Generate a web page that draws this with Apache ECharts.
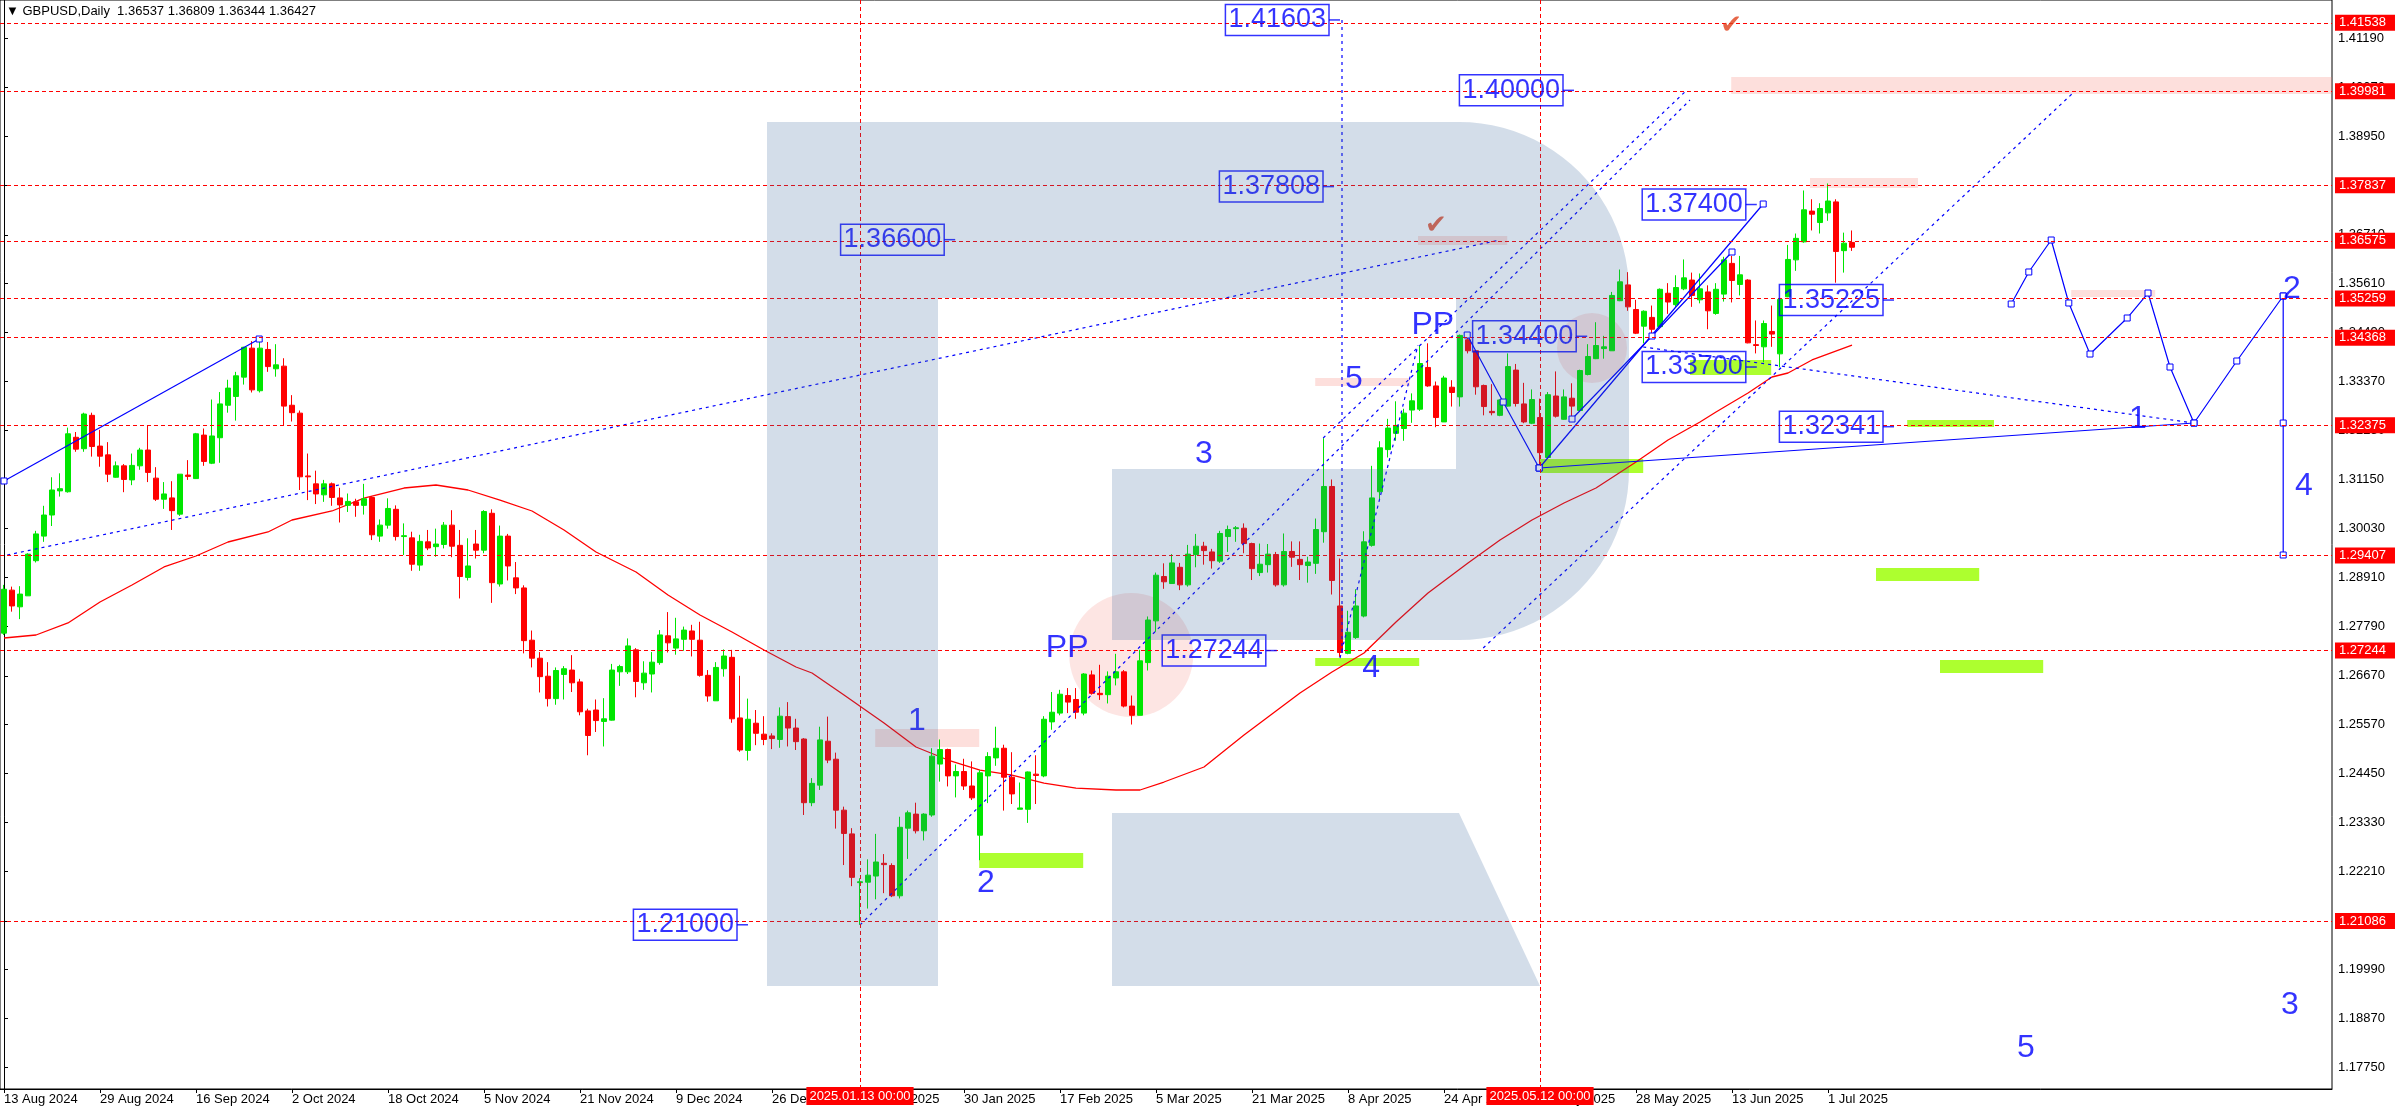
<!DOCTYPE html>
<html><head><meta charset="utf-8">
<script src="https://cdn.jsdelivr.net/npm/echarts@6/dist/echarts.min.js"></script>
<style>html,body{margin:0;padding:0;background:#fff}#c{width:2396px;height:1110px}</style>
</head><body><div id="c"></div>
<script>
// ---------------- DATA ----------------
const firstDate = '2024-08-13';
const skipDates = ['2024-12-25', '2025-01-01'];
const opens = [1.2764,1.2862,1.2824,1.2849,1.2929,1.2985,1.3033,1.3088,1.3086,1.3210,1.3184,1.3260,1.3190,1.3170,1.3119,1.3145,1.3113,1.3145,1.3181,1.3117,1.3069,1.3072,1.3035,1.3124,1.3116,1.3215,1.3151,1.3209,1.3283,1.3303,1.3347,1.3413,1.3316,1.3410,1.3366,1.3372,1.3283,1.3265,1.3122,1.3104,1.3079,1.3104,1.3072,1.3055,1.3063,1.3055,1.3073,1.2985,1.3010,1.3046,1.2984,1.2981,1.2919,1.2972,1.2961,1.2966,1.3010,1.2964,1.2891,1.2967,1.2953,1.3037,1.2876,1.2985,1.2890,1.2867,1.2748,1.2707,1.2666,1.2615,1.2670,1.2680,1.2653,1.2587,1.2589,1.2563,1.2566,1.2676,1.2676,1.2726,1.2651,1.2671,1.2697,1.2758,1.2730,1.2750,1.2769,1.2748,1.2668,1.2610,1.2683,1.2709,1.2571,1.2497,1.2559,1.2534,1.2530,1.2522,1.2574,1.2548,1.2523,1.2378,1.2418,1.2518,1.2477,1.2361,1.2307,1.2196,1.2197,1.2211,1.2240,1.2235,1.2166,1.2320,1.2352,1.2314,1.2350,1.2466,1.2499,1.2439,1.2449,1.2416,1.2304,1.2439,1.2480,1.2502,1.2436,1.2363,1.2363,1.2443,1.2439,1.2562,1.2582,1.2622,1.2613,1.2582,1.2669,1.2627,1.2624,1.2662,1.2676,1.2598,1.2577,1.2697,1.2792,1.2893,1.2877,1.2914,1.2874,1.2943,1.2962,1.2949,1.2928,1.2984,1.3002,1.3003,1.2968,1.2902,1.2920,1.2943,1.2874,1.2950,1.2932,1.2918,1.2923,1.2995,1.3098,1.2826,1.2718,1.2754,1.2803,1.2964,1.3086,1.3182,1.3219,1.3230,1.3272,1.3274,1.3369,1.3327,1.3245,1.3324,1.3302,1.3432,1.3407,1.3328,1.3269,1.3260,1.3281,1.3363,1.3286,1.3242,1.3255,1.3164,1.3304,1.3251,1.3299,1.3271,1.3353,1.3389,1.3412,1.3407,1.3521,1.3557,1.3501,1.3463,1.3483,1.3462,1.3538,1.3512,1.3548,1.3568,1.3523,1.3541,1.3492,1.3536,1.3606,1.3558,1.3568,1.3421,1.3416,1.3451,1.3400,1.3530,1.3614,1.3655,1.3725,1.3699,1.3721,1.3746,1.3635,1.36537];
const highs = [1.2874,1.2870,1.2871,1.2946,1.2997,1.3054,1.3119,1.3128,1.3232,1.3222,1.3266,1.3266,1.3227,1.3199,1.3155,1.3149,1.3173,1.3186,1.3237,1.3142,1.3108,1.3110,1.3126,1.3158,1.3220,1.3230,1.3296,1.3313,1.3341,1.3359,1.3416,1.3429,1.3433,1.3427,1.3422,1.3390,1.3306,1.3271,1.3173,1.3134,1.3113,1.3107,1.3095,1.3082,1.3070,1.3104,1.3076,1.3023,1.3071,1.3055,1.3014,1.2995,1.2988,1.2999,1.3002,1.3017,1.3044,1.2999,1.2980,1.2999,1.3044,1.3046,1.3009,1.2990,1.2926,1.2873,1.2770,1.2721,1.2698,1.2686,1.2689,1.2714,1.2660,1.2592,1.2613,1.2616,1.2694,1.2692,1.2752,1.2730,1.2700,1.2721,1.2771,1.2812,1.2799,1.2779,1.2783,1.2790,1.2680,1.2698,1.2727,1.2726,1.2667,1.2615,1.2589,1.2575,1.2536,1.2595,1.2607,1.2569,1.2525,1.2434,1.2551,1.2574,1.2492,1.2369,1.2320,1.2206,1.2249,1.2307,1.2261,1.2240,1.2346,1.2360,1.2378,1.2354,1.2502,1.2522,1.2501,1.2465,1.2478,1.2472,1.2452,1.2493,1.2551,1.2510,1.2493,1.2424,1.2449,1.2486,1.2575,1.2630,1.2635,1.2639,1.2639,1.2673,1.2679,1.2692,1.2677,1.2717,1.2680,1.2622,1.2726,1.2802,1.2902,1.2923,1.2944,1.2924,1.2965,1.2990,1.2972,1.2956,1.2997,1.3009,1.3008,1.3014,1.2970,1.2968,1.2967,1.2949,1.2991,1.2973,1.2973,1.2938,1.3025,1.3208,1.3114,1.2934,1.2815,1.2864,1.2996,1.3145,1.3201,1.3252,1.3292,1.3275,1.3310,1.3419,1.3424,1.3337,1.3350,1.3340,1.3444,1.3444,1.3409,1.3330,1.3331,1.3296,1.3401,1.3377,1.3334,1.3319,1.3298,1.3313,1.3360,1.3319,1.3333,1.3364,1.3422,1.3472,1.3441,1.3541,1.3592,1.3586,1.3523,1.3499,1.3510,1.3549,1.3561,1.3579,1.3615,1.3585,1.3583,1.3556,1.3561,1.3621,1.3623,1.3623,1.3570,1.3476,1.3476,1.3510,1.3526,1.3648,1.3674,1.3772,1.3752,1.3743,1.3788,1.3752,1.3676,1.36809];
const lows = [1.2760,1.2813,1.2796,1.2849,1.2925,1.2972,1.3008,1.3075,1.3084,1.3177,1.3177,1.3166,1.3143,1.3108,1.3118,1.3085,1.3101,1.3136,1.3108,1.3065,1.3047,1.2999,1.3031,1.3113,1.3115,1.3145,1.3149,1.3152,1.3266,1.3248,1.3330,1.3312,1.3312,1.3359,1.3348,1.3236,1.3246,1.3090,1.3067,1.3058,1.3063,1.3054,1.3016,1.3040,1.3029,1.3034,1.2976,1.2972,1.3002,1.2975,1.2942,1.2906,1.2906,1.2953,1.2938,1.2957,1.2937,1.2843,1.2884,1.2934,1.2946,1.2833,1.2870,1.2884,1.2853,1.2718,1.2686,1.2629,1.2597,1.2601,1.2613,1.2630,1.2577,1.2486,1.2539,1.2506,1.2565,1.2644,1.2671,1.2618,1.2635,1.2629,1.2692,1.2720,1.2715,1.2724,1.2711,1.2665,1.2608,1.2610,1.2665,1.2560,1.2494,1.2474,1.2509,1.2509,1.2500,1.2503,1.2506,1.2498,1.2350,1.2370,1.2407,1.2468,1.2319,1.2236,1.2188,1.2100,1.2137,1.2158,1.2172,1.2163,1.2160,1.2250,1.2308,1.2292,1.2346,1.2426,1.2415,1.2390,1.2407,1.2384,1.2247,1.2377,1.2462,1.2360,1.2375,1.2363,1.2332,1.2375,1.2436,1.2544,1.2577,1.2582,1.2569,1.2577,1.2624,1.2612,1.2604,1.2645,1.2595,1.2556,1.2577,1.2679,1.2767,1.2865,1.2876,1.2862,1.2870,1.2914,1.2920,1.2911,1.2924,1.2949,1.2972,1.2946,1.2885,1.2894,1.2902,1.2870,1.2870,1.2915,1.2885,1.2879,1.2899,1.2970,1.2852,1.2710,1.2716,1.2751,1.2800,1.2961,1.3069,1.3164,1.3202,1.3202,1.3243,1.3270,1.3325,1.3233,1.3245,1.3280,1.3280,1.3401,1.3307,1.3260,1.3260,1.3258,1.3280,1.3280,1.3242,1.3240,1.3137,1.3161,1.3255,1.3250,1.3251,1.3268,1.3351,1.3388,1.3389,1.3407,1.3520,1.3498,1.3445,1.3424,1.3445,1.3460,1.3491,1.3507,1.3545,1.3507,1.3515,1.3456,1.3489,1.3519,1.3517,1.3533,1.3424,1.3401,1.3381,1.3416,1.3369,1.3529,1.3589,1.3653,1.3681,1.3674,1.3703,1.3562,1.3585,1.36344];
const closes = [1.2864,1.2826,1.2853,1.2944,1.2990,1.3033,1.3090,1.3093,1.3218,1.3183,1.3263,1.3189,1.3167,1.3126,1.3145,1.3114,1.3146,1.3181,1.3130,1.3069,1.3081,1.3043,1.3126,1.3121,1.3218,1.3155,1.3213,1.3286,1.3322,1.3350,1.3415,1.3318,1.3413,1.3371,1.3375,1.3281,1.3266,1.3120,1.3120,1.3081,1.3104,1.3073,1.3056,1.3064,1.3055,1.3070,1.2988,1.3010,1.3048,1.2984,1.2986,1.2921,1.2973,1.2958,1.2967,1.3010,1.2962,1.2893,1.2917,1.2953,1.3041,1.2879,1.2985,1.2917,1.2867,1.2747,1.2707,1.2665,1.2615,1.2679,1.2683,1.2651,1.2585,1.2531,1.2565,1.2569,1.2680,1.2688,1.2735,1.2654,1.2673,1.2698,1.2760,1.2742,1.2751,1.2771,1.2750,1.2668,1.2621,1.2686,1.2712,1.2569,1.2498,1.2568,1.2536,1.2522,1.2524,1.2575,1.2548,1.2517,1.2378,1.2422,1.2521,1.2475,1.2361,1.2308,1.2208,1.2198,1.2213,1.2243,1.2237,1.2166,1.2322,1.2355,1.2314,1.2352,1.2484,1.2499,1.2439,1.2449,1.2416,1.2389,1.2446,1.2483,1.2502,1.2436,1.2398,1.2366,1.2448,1.2440,1.2568,1.2584,1.2625,1.2607,1.2584,1.2671,1.2627,1.2624,1.2666,1.2676,1.2598,1.2577,1.2701,1.2794,1.2896,1.2881,1.2924,1.2874,1.2944,1.2962,1.2952,1.2929,1.2991,1.3000,1.3004,1.2968,1.2911,1.2921,1.2944,1.2874,1.2950,1.2937,1.2920,1.2926,1.3000,1.3098,1.2884,1.2720,1.2766,1.2826,1.2972,1.3072,1.3186,1.3231,1.3237,1.3265,1.3293,1.3378,1.3327,1.3255,1.3345,1.3312,1.3442,1.3407,1.3325,1.3280,1.3266,1.3295,1.3371,1.3287,1.3245,1.3296,1.3175,1.3307,1.3258,1.3302,1.3281,1.3362,1.3394,1.3419,1.3416,1.3533,1.3564,1.3507,1.3447,1.3497,1.3456,1.3547,1.3518,1.3551,1.3573,1.3533,1.3548,1.3498,1.3547,1.3614,1.3567,1.3580,1.3425,1.3419,1.3469,1.3445,1.3524,1.3615,1.3663,1.3728,1.3718,1.3731,1.3748,1.3633,1.3652,1.36427];

// moving average: bar index and value
const maIdx = [0,4,8,12,16,20,24,28,33,36,41,45,50,54,58,62,66,70,74,79,83,87,91,95,99,101,105,110,114,118,122,126,130,134,139,142,145,150,155,162,166,170,174,178,183,187,191,195,199,204,208,212,214,218,221,223,226,231];
const maVal = [1.27530,1.27598,1.27872,1.28350,1.28737,1.29147,1.29397,1.29716,1.29944,1.30217,1.30422,1.30717,1.30945,1.31014,1.30900,1.30672,1.30422,1.29989,1.29488,1.29032,1.28509,1.28053,1.27666,1.27257,1.26870,1.26733,1.26232,1.25594,1.25048,1.24752,1.24524,1.24410,1.24228,1.24114,1.24069,1.24069,1.24251,1.24593,1.25321,1.26278,1.26756,1.27188,1.27894,1.28554,1.29238,1.29761,1.30217,1.30604,1.30945,1.31537,1.32038,1.32447,1.32675,1.33108,1.33473,1.33564,1.33861,1.34201];

const yTicks = [1.17750,1.18870,1.19990,1.21090,1.22210,1.23330,1.24450,1.25570,1.26670,1.27790,1.28910,1.30030,1.31150,1.32250,1.33370,1.34490,1.35610,1.36710,1.37830,1.38950,1.40070,1.41190];
const xTickIdx = [0,12,24,36,48,60,72,84,96,108,120,132,144,156,168,180,192,204,216,228];
const redLevels = [1.41538,1.39981,1.37837,1.36575,1.35259,1.34368,1.32375,1.29407,1.27244,1.21086];
const lastPrice = 1.36427;
const markedBars = [[107,'2025.01.13 00:00'],[192,'2025.05.12 00:00']];

// annotation zones [x1, x2, price1, price2]
const pinkZones = [[108.9,121.9,1.25458,1.25048],[163.9,175.75,1.33450,1.33268],[176.75,187.9,1.36683,1.36478],[215.9,291,1.40304,1.39917],[225.75,239.25,1.38004,1.37776],[258.4,268.9,1.35454,1.35294]];
const greenZones = [[121.9,134.9,1.22634,1.22293],[163.9,176.9,1.27074,1.26892],[192,204.9,1.31605,1.31287],[210.75,220.9,1.33860,1.33518],[237.9,248.75,1.32494,1.32334],[234,246.9,1.29124,1.28828],[242,254.9,1.27029,1.26733]];
const pinkCircles = [[140.9,1.27143,124],[198.5,1.34133,70]];

// blue solid polylines
const solidLines = [
  [[0,1.31105],[31.9,1.34338]],
  [[182.9,1.34429],[187.4,1.32903],[191.9,1.31401]],
  [[191.9,1.31401],[219.9,1.37412]],
  [[196,1.32516],[206,1.34406],[216,1.36319]],
  [[191.9,1.31401],[273.75,1.32425]],
  [[250.9,1.35135],[253.1,1.35864],[255.9,1.36592],[258.1,1.35158],[260.75,1.33996],[265.4,1.34816],[268,1.35385],[270.75,1.33700],[273.75,1.32425],[279.1,1.33837],[284.9,1.35317]],
  [[284.9,1.35317],[284.9,1.32425],[284.9,1.29420]]
];
// blue dotted polylines
const dottedLines = [
  [[0.4,1.29420],[187,1.36592]],
  [[107,1.20995],[210.75,1.39780]],
  [[164.9,1.32084],[210.1,1.39962]],
  [[184.9,1.27302],[258.75,1.39962]],
  [[167.25,1.41603],[167.25,1.27097]],
  [[204.9,1.34156],[273.75,1.32425]],
  [[167,1.27074],[176.75,1.34201]]
];
// boxed price labels [text, bar index of anchor, price]
const boxLabels = [['1.41603',167,1.41603],['1.40000',196.25,1.40000],['1.37808',166.25,1.37808],['1.36600',118.9,1.36600],['1.37400',219.1,1.37400],['1.34400',197.9,1.34400],['1.35225',236.25,1.35225],['1.33700',219.1,1.33700],['1.32341',236.25,1.32341],['1.27244',159.1,1.27244],['1.21000',93,1.21000]];
// wave marks [text, bar index, price]
const waveTexts = [['1',114.1,1.2564],['2',122.75,1.2195],['3',150,1.3172],['4',170.9,1.2685],['5',168.75,1.3343],['PP',132.9,1.2730],['PP',178.6,1.3466],['1',266.75,1.3252],['2',286,1.3548],['3',285.75,1.1917],['4',287.5,1.3099],['5',252.75,1.1819]];
const checkMarks = [[179,1.36911],[215.9,1.41465]];

// ---------------- BUILD ----------------
const MONTHS = ['Jan','Feb','Mar','Apr','May','Jun','Jul','Aug','Sep','Oct','Nov','Dec'];
function buildDates(n) {
  const out = [];
  const d = new Date(firstDate + 'T00:00:00Z');
  while (out.length < n) {
    const iso = d.toISOString().slice(0, 10);
    const wd = d.getUTCDay();
    if (wd !== 0 && wd !== 6 && skipDates.indexOf(iso) < 0) {
      out.push(d.getUTCDate() + ' ' + MONTHS[d.getUTCMonth()] + ' ' + d.getUTCFullYear());
    }
    d.setUTCDate(d.getUTCDate() + 1);
  }
  return out;
}
const dates = buildDates(opens.length);
const candles = opens.map((o, i) => [i, o, closes[i], lows[i], highs[i]]);
const maData = maIdx.map((x, i) => [x, maVal[i]]);

const BLUE = '#0000ff';
const FONT = 'Liberation Sans, Arial, sans-serif';

const series = [];
series.push({
  type: 'line', data: [], z: 1, silent: true,
  markArea: {
    silent: true,
    data: pinkZones.map(z => [{xAxis: z[0], yAxis: z[2], itemStyle: {color: 'rgba(245,120,110,0.24)'}}, {xAxis: z[1], yAxis: z[3]}])
      .concat(greenZones.map(z => [{xAxis: z[0], yAxis: z[2], itemStyle: {color: '#adff2f'}}, {xAxis: z[1], yAxis: z[3]}]))
  }
});
series.push({
  type: 'scatter', z: 1, silent: true,
  data: pinkCircles.map(c => ({value: [c[0], c[1]], symbolSize: c[2]})),
  itemStyle: {color: 'rgba(245,120,110,0.24)'}
});
series.push({
  type: 'line', data: [], z: 2, silent: true,
  markLine: {
    silent: true, symbol: ['none', 'none'], animation: false, precision: 5,
    lineStyle: {color: '#ff0000', type: [4, 3], width: 1},
    label: {show: true, position: 'end', distance: 3, formatter: p => Number(p.value).toFixed(5), color: '#fff', backgroundColor: '#ff0000', padding: [2, 9, 1, 4], fontSize: 13, fontFamily: FONT},
    data: redLevels.map(v => ({yAxis: v}))
      .concat([{yAxis: lastPrice, lineStyle: {opacity: 0}, label: {backgroundColor: '#000', color: '#fff'}}])
      .concat(markedBars.map(m => ({xAxis: m[0], label: {position: 'start', distance: -2, formatter: m[1], padding: [3, 3, 2, 3]}})))
  }
});
series.push({
  type: 'candlestick', z: 3, clip: false,
  data: candles, encode: {x: 0, y: [1, 2, 3, 4]},
  barWidth: 5,
  itemStyle: {color: '#00e600', color0: '#ff0000', borderColor: '#00e600', borderColor0: '#ff0000', borderWidth: 1}
});
series.push({
  type: 'line', z: 3, data: maData, showSymbol: false, smooth: false,
  lineStyle: {color: '#ff0000', width: 1.3}
});
solidLines.forEach(l => series.push({
  type: 'line', z: 4, data: l, symbol: 'rect', symbolSize: 6, showSymbol: true,
  itemStyle: {color: '#fff', borderColor: BLUE, borderWidth: 1},
  lineStyle: {color: BLUE, width: 1.2}
}));
dottedLines.forEach(l => series.push({
  type: 'line', z: 4, data: l, showSymbol: false,
  lineStyle: {color: BLUE, width: 1.2, type: [3, 4]}
}));
series.push({
  type: 'scatter', z: 6,
  data: boxLabels.map(b => ({value: [b[1], b[2]], name: b[0]})),
  symbol: 'rect', symbolSize: [11, 1.5], symbolOffset: [-5.5, 0],
  itemStyle: {color: BLUE},
  label: {show: true, position: 'left', distance: 0, formatter: p => p.name, color: BLUE, fontSize: 27, fontFamily: FONT,
    borderColor: BLUE, borderWidth: 1.5, padding: [2, 3, 0, 3], lineHeight: 29}
});
series.push({
  type: 'scatter', z: 6, symbolSize: 0,
  data: waveTexts.map(w => ({value: [w[1], w[2]], name: w[0]})),
  label: {show: true, position: 'inside', formatter: p => p.name, color: BLUE, fontSize: 32, fontFamily: FONT}
});
series.push({
  type: 'scatter', z: 6, symbolSize: 0,
  data: checkMarks.map(c => ({value: c})),
  label: {show: true, position: 'inside', formatter: '\u2714', color: '#e0401a', fontSize: 26, fontFamily: 'DejaVu Sans'}
});

// watermark outline (pixel geometry of the logo)
function arcPts(cx, cy, r, a0, a1, n) {
  const pts = [];
  for (let k = 0; k <= n; k++) {
    const a = (a0 + (a1 - a0) * k / n) * Math.PI / 180;
    pts.push([cx + r * Math.cos(a), cy + r * Math.sin(a)]);
  }
  return pts;
}
const logoBowl = [[767,122]]
  .concat(arcPts(1459, 292, 170, -90, 0, 24))
  .concat(arcPts(1459, 470, 170, 0, 90, 24))
  .concat([[1112,640],[1112,469],[1456,469],[1456,298],[938,298],[938,986],[767,986]]);
const logoLeg = [[1112,813],[1459,813],[1540,986],[1112,986]];

const OV = 'rgba(55,100,155,0.22)';
const option = {
  animation: false,
  backgroundColor: '#fff',
  grid: {left: 0, right: 64, top: 0, bottom: 21, show: true, borderColor: '#000', borderWidth: 1, backgroundColor: 'transparent'},
  xAxis: {
    type: 'value', min: -0.5, max: 291,
    axisLine: {show: true, lineStyle: {color: '#000'}},
    splitLine: {show: false},
    axisTick: {show: true, customValues: xTickIdx, length: 4, lineStyle: {color: '#000'}},
    axisLabel: {show: true, customValues: xTickIdx, formatter: v => dates[Math.round(v)] || '', align: 'left', margin: 4, color: '#000', fontSize: 13, fontFamily: FONT}
  },
  yAxis: {
    type: 'value', position: 'right', min: 1.17261, max: 1.42057, scale: true,
    axisLine: {show: true, lineStyle: {color: '#000'}},
    splitLine: {show: false},
    axisTick: {show: true, customValues: yTicks, length: 4, lineStyle: {color: '#000'}},
    axisLabel: {show: true, customValues: yTicks, formatter: v => v.toFixed(5), margin: 6, color: '#000', fontSize: 13, fontFamily: FONT}
  },
  graphic: {elements: [
    {type: 'polygon', z: 100, silent: true, shape: {points: logoBowl}, style: {fill: OV}},
    {type: 'polygon', z: 100, silent: true, shape: {points: logoLeg}, style: {fill: OV}},
    {type: 'text', z: 100, left: 6, top: 5, style: {text: '\u25BC GBPUSD,Daily  ' + [opens, highs, lows, closes].map(a => a[a.length - 1].toFixed(5)).join(' '), fill: '#000', font: '13px ' + FONT}}
  ]},
  series: series
};
const chart = echarts.init(document.getElementById('c'), null, {renderer: 'canvas'});
chart.setOption(option);
</script></body></html>
